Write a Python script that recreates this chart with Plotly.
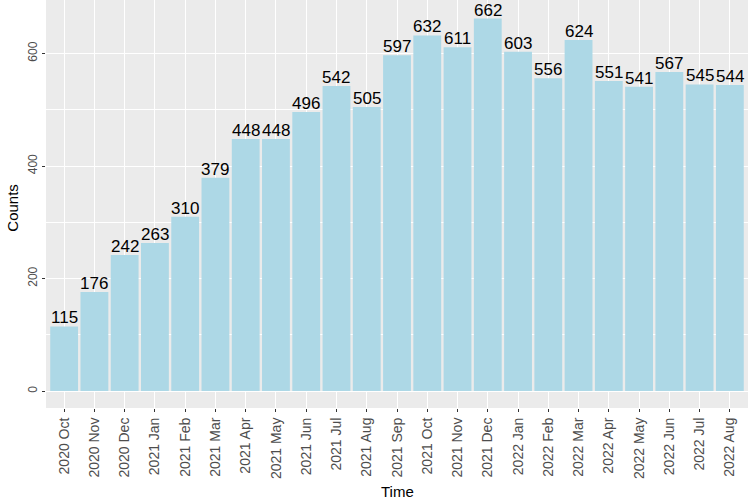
import plotly.graph_objects as go

# Monthly counts
months = [
    "2020 Oct", "2020 Nov", "2020 Dec", "2021 Jan", "2021 Feb", "2021 Mar",
    "2021 Apr", "2021 May", "2021 Jun", "2021 Jul", "2021 Aug", "2021 Sep",
    "2021 Oct", "2021 Nov", "2021 Dec", "2022 Jan", "2022 Feb", "2022 Mar",
    "2022 Apr", "2022 May", "2022 Jun", "2022 Jul", "2022 Aug",
]
counts = [115, 176, 242, 263, 310, 379, 448, 448, 496, 542, 505, 597,
          632, 611, 662, 603, 556, 624, 551, 541, 567, 545, 544]
y_ticks = [0, 200, 400, 600]

FONT = "Arial, Liberation Sans, sans-serif"

fig = go.Figure()
fig.add_trace(go.Bar(
    x=months,
    y=counts,
    marker=dict(color="#ADD8E6", line=dict(width=0)),
    hoverinfo="x+y",
))

# value labels sitting right on top of each bar (like geom_text with vjust)
for m, c in zip(months, counts):
    fig.add_annotation(x=m, y=c, text=str(c), yanchor="bottom", yshift=-3,
                       showarrow=False,
                       font=dict(family=FONT, size=17, color="black"))

# axis titles placed by hand so the panel keeps fixed margins
fig.add_annotation(text="Time", xref="paper", yref="paper", x=0.5, y=-0.205,
                   yanchor="middle", showarrow=False,
                   font=dict(family=FONT, size=15, color="black"))
fig.add_annotation(text="Counts", xref="paper", yref="paper", x=-0.049, y=0.49,
                   xanchor="center", textangle=-90, showarrow=False,
                   font=dict(family=FONT, size=15, color="black"))

fig.update_layout(
    width=750, height=503,
    margin=dict(l=46, r=2, t=0, b=95),
    plot_bgcolor="#EBEBEB",
    paper_bgcolor="white",
    bargap=0.08,
    showlegend=False,
    font=dict(family=FONT),
    xaxis=dict(
        tickangle=-90,
        tickfont=dict(size=14, color="#4D4D4D"),
        showgrid=True, gridcolor="white", gridwidth=1.2,
        ticks="outside", ticklen=3, tickcolor="#333333",
        range=[-0.6, len(months) - 0.4],
        zeroline=False, automargin=False,
    ),
    yaxis=dict(
        tickvals=y_ticks,
        tickangle=-90,
        tickfont=dict(size=12, color="#4D4D4D"),
        showgrid=True, gridcolor="white", gridwidth=1.2,
        minor=dict(showgrid=True, gridcolor="white", gridwidth=0.6, dtick=100),
        ticks="outside", ticklen=3, tickcolor="#333333",
        range=[-30, 695],
        zeroline=False, automargin=False,
    ),
)

# drop the browser's default body margin so the figure sits at the page corner
fig.write_html("out.html", config={"displayModeBar": False},
               post_script="document.body.style.margin='0';")
